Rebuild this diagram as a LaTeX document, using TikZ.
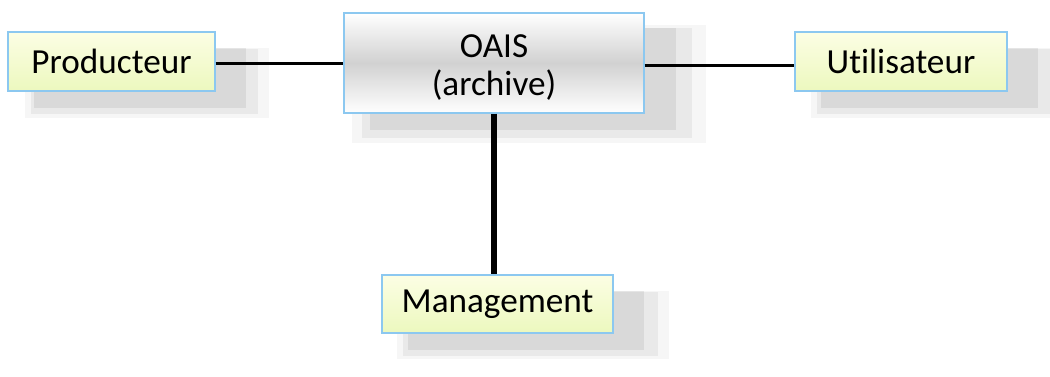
\documentclass[tikz,border=0pt]{standalone}
\usepackage{fontspec}
\setmainfont[Ligatures=NoCommon]{Carlito}
\usetikzlibrary{shadows}
\definecolor{boxedge}{RGB}{140,200,240}
\definecolor{yeltop}{RGB}{252,254,228}
\definecolor{yelbot}{RGB}{236,248,190}
\tikzset{
  softshadow/.style={
    drop shadow={shadow xshift=15pt,shadow yshift=-9pt,shadow scale=1.18,fill=black,opacity=.035},
    drop shadow={shadow xshift=15pt,shadow yshift=-9pt,shadow scale=1.10,fill=black,opacity=.05},
    drop shadow={shadow xshift=14pt,shadow yshift=-8pt,shadow scale=1.02,fill=black,opacity=.07}},
  actor/.style={draw=boxedge,line width=0.6pt,softshadow,
    top color=yeltop,bottom color=yelbot,inner sep=0pt,
    font=\fontsize{17.6}{20}\selectfont,text=black},
  archive/.style={draw=boxedge,line width=0.6pt,softshadow,
    top color=white,bottom color=white,middle color=black!18,
    inner sep=0pt,
    font=\fontsize{17.6}{19}\selectfont,text=black},
  link/.style={draw=black,line width=1.5pt},
  biglink/.style={draw=black,line width=3pt}
}
\begin{document}
\begin{tikzpicture}[x=0.5pt,y=-0.5pt]
\useasboundingbox (0,0) rectangle (1050,376);
\node[actor,minimum width=103.5pt,minimum height=29.5pt] (P) at (111.5,61.5) {Producteur};
\node[archive,minimum width=150pt,minimum height=50pt] (O) at (494,63)
  {\raisebox{-3pt}[\height][\depth]{\begin{tabular}{@{}c@{}}OAIS\\(archive)\end{tabular}}};
\node[actor,minimum width=106pt,minimum height=29.5pt] (U) at (901,61.5) {Utilisateur};
\node[actor,minimum width=115.5pt,minimum height=29pt] (M) at (497.5,304) {Management};
\draw[link] ([yshift=-1pt]P.east) -- ([yshift=-1pt]O.west |- P.east);
\draw[link] ([yshift=-2pt]O.east |- U.west) -- ([yshift=-2pt]U.west);
\draw[biglink] (O.south) -- (O.south |- M.north);
\end{tikzpicture}
\end{document}
